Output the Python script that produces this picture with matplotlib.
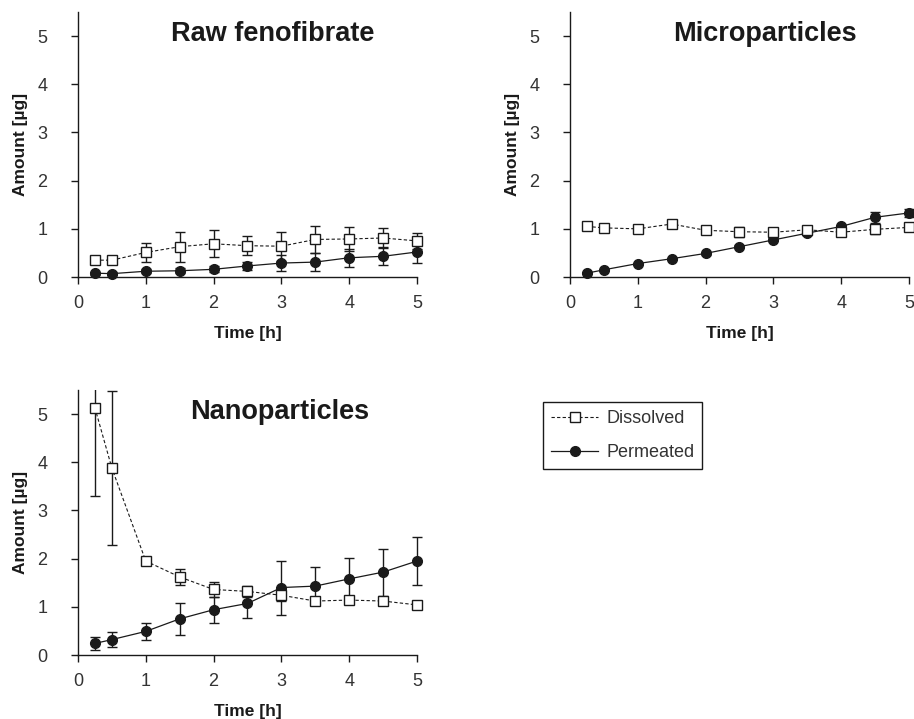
import matplotlib
matplotlib.use("Agg")
from matplotlib import pyplot as plt
from matplotlib.patches import Rectangle

plt.rcParams['font.family'] = ['Liberation Sans', 'DejaVu Sans']

time_h = [0.25, 0.5, 1, 1.5, 2, 2.5, 3, 3.5, 4, 4.5, 5]

# Raw fenofibrate
raw_dissolved = [0.35, 0.35, 0.51, 0.63, 0.69, 0.65, 0.64, 0.78, 0.79, 0.81, 0.75]
raw_dissolved_err = [0.03, 0.08, 0.19, 0.31, 0.28, 0.20, 0.30, 0.28, 0.24, 0.20, 0.16]
raw_permeated = [0.08, 0.07, 0.12, 0.13, 0.16, 0.23, 0.29, 0.31, 0.40, 0.43, 0.52]
raw_permeated_err = [0.03, 0.03, 0.04, 0.05, 0.06, 0.08, 0.16, 0.18, 0.19, 0.19, 0.22]

# Microparticles
micro_dissolved = [1.05, 1.02, 1.00, 1.10, 0.97, 0.94, 0.93, 0.98, 0.93, 0.99, 1.03]
micro_dissolved_err = [0.03, 0.06, 0.03, 0.04, 0.05, 0.10, 0.05, 0.03, 0.05, 0.09, 0.06]
micro_permeated = [0.08, 0.15, 0.28, 0.38, 0.49, 0.63, 0.77, 0.91, 1.05, 1.24, 1.33]
micro_permeated_err = [0.02, 0.02, 0.02, 0.02, 0.03, 0.03, 0.03, 0.03, 0.04, 0.11, 0.08]

# Nanoparticles
nano_dissolved = [5.13, 3.88, 1.95, 1.62, 1.36, 1.32, 1.24, 1.12, 1.14, 1.12, 1.04]
nano_dissolved_err = [1.84, 1.60, 0.03, 0.16, 0.15, 0.12, 0.12, 0.08, 0.05, 0.07, 0.05]
nano_permeated = [0.24, 0.32, 0.49, 0.75, 0.94, 1.07, 1.40, 1.43, 1.58, 1.72, 1.95]
nano_permeated_err = [0.14, 0.15, 0.17, 0.33, 0.27, 0.30, 0.56, 0.40, 0.43, 0.49, 0.50]

panels = [
    ("Raw fenofibrate", 2.87, raw_dissolved, raw_dissolved_err, raw_permeated, raw_permeated_err),
    ("Microparticles", 2.87, micro_dissolved, micro_dissolved_err, micro_permeated, micro_permeated_err),
    ("Nanoparticles", 2.98, nano_dissolved, nano_dissolved_err, nano_permeated, nano_permeated_err),
]

ink = '#1a1a1a'
tick_ink = '#333333'

fig = plt.figure(figsize=(9.14, 7.19), dpi=100)
rects = [
    [0.0853, 0.6147, 0.3709, 0.3686],
    [0.6236, 0.6147, 0.3709, 0.3686],
    [0.0853, 0.0890, 0.3709, 0.3686],
]


def clip_top_only(ax):
    # clip at the top of the axes only, so markers at x=5 are drawn whole
    clip = Rectangle((-0.1, -0.1), 1.2, 1.1, transform=ax.transAxes)
    for art in ax.lines + list(ax.collections):
        art.set_clip_path(clip)


handles = None
for rect, (title, title_x, diss, diss_err, perm, perm_err) in zip(rects, panels):
    ax = fig.add_axes(rect)
    d = ax.errorbar(time_h, diss, yerr=diss_err, color=ink, ls=(0, (3, 2)), lw=0.8,
                    marker='s', ms=6.5, mfc='white', mec=ink, mew=1.0,
                    elinewidth=1.0, capsize=3.3, capthick=1.0, zorder=3)
    p = ax.errorbar(time_h, perm, yerr=perm_err, color=ink, ls='-', lw=0.9,
                    marker='o', ms=7, mfc=ink, mec=ink,
                    elinewidth=1.0, capsize=3.3, capthick=1.0, zorder=2)
    clip_top_only(ax)
    handles = [d.lines[0], p.lines[0]]

    ax.set_xlim(0, 5)
    ax.set_ylim(0, 5.5)
    ax.set_xticks(range(0, 6))
    ax.set_yticks(range(0, 6))
    ax.spines['top'].set_visible(False)
    ax.spines['right'].set_visible(False)
    for s in ('left', 'bottom'):
        ax.spines[s].set_color(ink)
        ax.spines[s].set_linewidth(1.0)
    ax.tick_params(axis='both', direction='out', length=5, width=1.0, color=ink,
                   labelsize=13, labelcolor=tick_ink)
    ax.tick_params(axis='y', pad=17)
    ax.tick_params(axis='x', pad=8)
    ax.set_xlabel("Time [h]", fontsize=12.5, fontweight='bold', color=ink, labelpad=10)
    ax.set_ylabel("Amount [µg]", fontsize=12.5, fontweight='bold', color=ink, labelpad=7)
    ax.text(title_x, 5.05, title, ha='center', va='center', fontsize=19.5,
            fontweight='bold', color=ink)

leg = fig.legend(handles, ["Dissolved", "Permeated"], loc='upper left',
                 bbox_to_anchor=(0.594, 0.441), borderaxespad=0, fontsize=13,
                 handlelength=2.6, handletextpad=0.45, labelspacing=0.95,
                 borderpad=0.45, fancybox=False, framealpha=1)
leg.get_frame().set_edgecolor(ink)
leg.get_frame().set_linewidth(1.0)
for t in leg.get_texts():
    t.set_color(tick_ink)

fig.savefig("out.png", dpi=100)
